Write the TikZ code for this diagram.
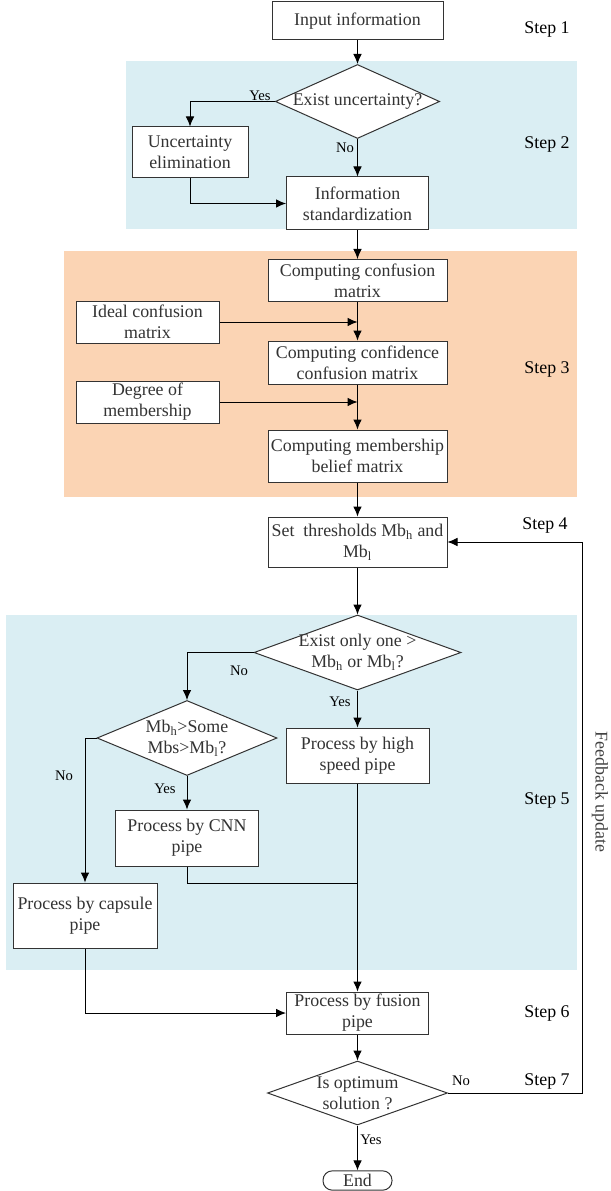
\documentclass[tikz,border=0pt]{standalone}
\usepackage{fontspec}
\setmainfont{Liberation Serif}
\usetikzlibrary{arrows.meta,shapes.geometric,positioning}
\definecolor{stepblue}{HTML}{DAEEF3}
\definecolor{steporange}{HTML}{FBD4B4}

\begin{document}
\begin{tikzpicture}[x=0.75pt,y=-0.75pt]
            \tikzstyle{every node}+=[inner sep=1pt]
            \tikzstyle{box}=[draw=black!80, line width=0.75pt, fill=white, align=center, text=black!80, font=\fontsize{13.4}{15.6}\selectfont]
            \tikzstyle{decide}=[box, diamond, inner sep=0pt]
            \tikzstyle{arr}=[line width=0.75pt, -{Latex[length=7.5pt,width=6.5pt]}]
            \tikzstyle{ln}=[line width=0.75pt]
            \tikzstyle{lbl}=[font=\fontsize{11}{13}\selectfont]
            \tikzstyle{steplbl}=[font=\fontsize{13.4}{15.6}\selectfont]
            \useasboundingbox (0,0) rectangle (610,1191);
            % background bands
            \fill [stepblue] (126,61) rectangle (577,229);
            \fill [steporange] (64,251) rectangle (577,497);
            \fill [stepblue] (6,615) rectangle (577,970);
            % step 1 and 2
            \node [box, minimum width=128.25pt, minimum height=28.5pt] (input) at (357.5,21) {Input information};
            \node [decide, shape aspect=2.22, minimum width=121.5pt, minimum height=54.75pt] (exist) at (357.5,101.5) {Exist uncertainty?};
            \node [box, minimum width=87pt, minimum height=38.25pt] (elim) at (190,152.5) {Uncertainty\\elimination};
            \node [box, minimum width=106.5pt, minimum height=39.75pt] (stand) at (357.5,203.5) {Information\\standardization};
            % step 3
            \node [box, minimum width=134.25pt, minimum height=31.5pt] (confmat) at (357.5,280.5) {Computing confusion\\matrix};
            \node [box, minimum width=107.25pt, minimum height=31.5pt] (ideal) at (147.5,322) {Ideal confusion\\matrix};
            \node [box, minimum width=134.25pt, minimum height=32.25pt] (confid) at (357.5,362.5) {Computing confidence\\confusion matrix};
            \node [box, minimum width=107.25pt, minimum height=31.5pt] (degree) at (147.5,402) {Degree of\\membership};
            \node [box, minimum width=134.25pt, minimum height=39pt] (belief) at (357.5,456) {Computing membership\\belief matrix};
            % step 4
            \node [box, minimum width=134.25pt, minimum height=37.5pt] (thresh) at (357.5,542) {Set~ thresholds Mb\textsubscript{h} and\\Mb\textsubscript{l}};
            % step 5
            \node [decide, shape aspect=2.76, minimum width=155.25pt, minimum height=56.25pt, inner sep=-2pt] (only) at (357.5,652.5) {Exist only one \textgreater\\Mb\textsubscript{h} or Mb\textsubscript{l}?};
            \node [decide, shape aspect=2.4, minimum width=135pt, minimum height=56.25pt] (some) at (187,738) {Mb\textsubscript{h}\textgreater Some\\Mbs\textgreater Mb\textsubscript{l}?};
            \node [box, minimum width=107.25pt, minimum height=41.25pt] (speed) at (357.5,755.5) {Process by high\\speed pipe};
            \node [box, minimum width=107.25pt, minimum height=42pt] (cnn) at (187,838) {Process by CNN\\pipe};
            \node [box, minimum width=108pt, minimum height=48.75pt] (capsule) at (85,915.5) {Process by capsule\\pipe};
            % step 6 and 7
            \node [box, minimum width=106.5pt, minimum height=31.5pt] (fusion) at (357.5,1013) {Process by fusion\\pipe};
            \node [decide, shape aspect=2.81, minimum width=135pt, minimum height=48pt] (optim) at (357.5,1093) {Is optimum\\solution ?};
            \node [box, rounded corners=7pt, minimum width=51.75pt, minimum height=14.5pt, inner sep=0pt] (finish) at (357.5,1180.5) {End};
            \coordinate (join) at (357.5,883);
            \coordinate (fback) at (582,542);
            % connectors
            \draw [arr] (input) -- (exist);
            \draw [arr] (exist.west) -| (elim.north);
            \draw [arr] (exist) -- (stand);
            \draw [arr] (elim.south) |- (stand.west);
            \draw [arr] (stand) -- (confmat);
            \draw [arr] (confmat) -- (confid);
            \draw [arr] (ideal) -- (ideal -| confmat.south);
            \draw [arr] (confid) -- (belief);
            \draw [arr] (degree) -- (degree -| confid.south);
            \draw [arr] (belief) -- (thresh);
            \draw [arr] (thresh) -- (only);
            \draw [arr] (only.west) -| (some.north);
            \draw [arr] (only) -- (speed);
            \draw [arr] (some.west) -| (capsule.north);
            \draw [arr] (some) -- (cnn);
            \draw [ln] (cnn.south) |- (join);
            \draw [arr] (speed) -- (fusion);
            \draw [arr] (capsule.south) |- (fusion.west);
            \draw [arr] (fusion) -- (optim);
            \draw [arr] (optim) -- (finish);
            \draw [arr] (optim.east) -| (fback) -- (thresh.east);
            % branch labels
            \node [lbl] (yes1) at (260,96) {Yes};
            \node [lbl] (no1) at (345,148) {No};
            \node [lbl] (no2) at (239,671) {No};
            \node [lbl] (yes2) at (340,702) {Yes};
            \node [lbl] (no3) at (64,776) {No};
            \node [lbl] (yes3) at (165,789) {Yes};
            \node [lbl] (no4) at (461,1081) {No};
            \node [lbl] (yes4) at (371,1140) {Yes};
            % step labels
            \node [steplbl] (s1) at (547,29) {Step 1};
            \node [steplbl] (s2) at (547,144) {Step 2};
            \node [steplbl] (s3) at (547,369) {Step 3};
            \node [steplbl] (s4) at (545,525) {Step 4};
            \node [steplbl] (s5) at (547,800) {Step 5};
            \node [steplbl] (s6) at (547,1013) {Step 6};
            \node [steplbl] (s7) at (547,1081) {Step 7};
            \node [steplbl, text=black!75, rotate=-90] (fbtext) at (600,792) {Feedback update};
            \end{tikzpicture}
\end{document}
